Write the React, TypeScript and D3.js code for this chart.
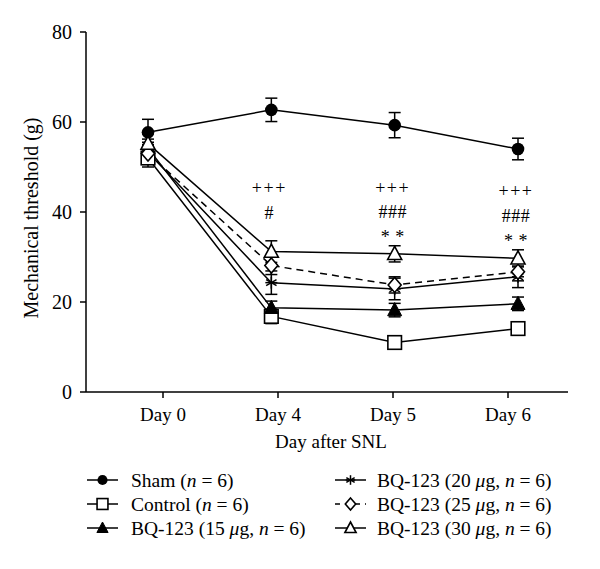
import React from "react";
import * as d3 from "d3";

const days = ["Day 0", "Day 4", "Day 5", "Day 6"];
const yTicks = [0, 20, 40, 60, 80];

const shamMean = [57.7, 62.7, 59.3, 54.0];
const shamErr = [2.9, 2.6, 2.8, 2.4];
const controlMean = [52.0, 16.8, 11.0, 14.1];
const controlErr = [2.0, 1.6, 0.8, 0.8];
const bq15Mean = [54.2, 18.7, 18.2, 19.6];
const bq15Err = [2.0, 1.5, 1.5, 1.5];
const bq20Mean = [53.3, 24.3, 22.9, 25.6];
const bq20Err = [2.2, 2.6, 2.4, 2.4];
const bq25Mean = [53.0, 28.1, 23.8, 26.7];
const bq25Err = [2.0, 2.0, 1.8, 2.0];
const bq30Mean = [55.2, 31.2, 30.7, 29.7];
const bq30Err = [2.2, 2.4, 1.8, 1.9];

const annotations = [
  { day: 1, lines: ["+++", "#"], ys: [194, 219] },
  { day: 2, lines: ["+++", "###", "* *"], ys: [194, 218, 243] },
  { day: 3, lines: ["+++", "###", "* *"], ys: [197, 222, 247] },
];

type Shape = "circle" | "square" | "triFilled" | "asterisk" | "diamond" | "triOpen";

const series: { mean: number[]; err: number[]; shape: Shape; dashed: boolean }[] = [
  { mean: shamMean, err: shamErr, shape: "circle", dashed: false },
  { mean: controlMean, err: controlErr, shape: "square", dashed: false },
  { mean: bq15Mean, err: bq15Err, shape: "triFilled", dashed: false },
  { mean: bq20Mean, err: bq20Err, shape: "asterisk", dashed: false },
  { mean: bq25Mean, err: bq25Err, shape: "diamond", dashed: true },
  { mean: bq30Mean, err: bq30Err, shape: "triOpen", dashed: false },
];

const FONT = "Liberation Serif, Times New Roman, DejaVu Serif, serif";
const ts = { fontFamily: FONT };

function Marker({ shape, x, y, s = 1 }: { shape: Shape; x: number; y: number; s?: number }) {
  const sw = 1.6;
  switch (shape) {
    case "circle":
      return <circle cx={x} cy={y} r={6.3 * s} fill="#000" />;
    case "square":
      return (
        <rect x={x - 6.8 * s} y={y - 6.8 * s} width={13.6 * s} height={13.6 * s} fill="#fff" stroke="#000" strokeWidth={sw} />
      );
    case "triFilled":
    case "triOpen": {
      const h = 7.5 * s;
      const w = 7 * s;
      const p = `M${x},${y - h} L${x + w},${y + h * 0.75} L${x - w},${y + h * 0.75} Z`;
      return shape === "triFilled" ? (
        <path d={p} fill="#000" stroke="#000" strokeWidth={1} />
      ) : (
        <path d={p} fill="#fff" stroke="#000" strokeWidth={sw} />
      );
    }
    case "diamond": {
      const w = 6.5 * s;
      const h = 7.5 * s;
      return (
        <path
          d={`M${x},${y - h} L${x + w},${y} L${x},${y + h} L${x - w},${y} Z`}
          fill="#fff"
          stroke="#000"
          strokeWidth={sw}
        />
      );
    }
    case "asterisk": {
      const r = 6 * s;
      const lines = [0, 60, 120].map((a) => {
        const rad = (a * Math.PI) / 180 + Math.PI / 2;
        return (
          <line
            key={a}
            x1={x - r * Math.cos(rad)}
            y1={y - r * Math.sin(rad)}
            x2={x + r * Math.cos(rad)}
            y2={y + r * Math.sin(rad)}
            stroke="#000"
            strokeWidth={1.5}
          />
        );
      });
      return (
        <g>
          {lines}
          <line x1={x - r} y1={y} x2={x + r} y2={y} stroke="#000" strokeWidth={1.5} />
        </g>
      );
    }
  }
  return null;
}

export default function App() {
  const width = 600;
  const height = 569;
  const x = d3.scaleLinear().domain([0, 3]).range([148, 518]);
  const tickX = d3.scalePoint<string>().domain(days).range([163, 508]);
  const y = d3.scaleLinear().domain([0, 80]).range([392, 32]);
  const axisLeft = 86;
  const axisRight = 568;

  const line = d3
    .line<number>()
    .x((_, i) => x(i))
    .y((d) => y(d));

  const it = (t: string, k: string) => (
    <tspan key={k} fontStyle="italic" style={ts}>
      {t}
    </tspan>
  );
  const pl = (t: string, k: string) => (
    <tspan key={k} style={ts}>
      {t}
    </tspan>
  );
  const mu = (dose: string) => [
    pl(`BQ-123 (${dose} `, "a"),
    it("μ", "m"),
    pl("g, ", "g"),
    it("n", "b"),
    pl(" = 6)", "c"),
  ];
  const legendRows = [
    { shape: "circle" as Shape, dashed: false, col: 0, row: 0, label: [pl("Sham (", "a"), it("n", "b"), pl(" = 6)", "c")] },
    { shape: "square" as Shape, dashed: false, col: 0, row: 1, label: [pl("Control (", "a"), it("n", "b"), pl(" = 6)", "c")] },
    { shape: "triFilled" as Shape, dashed: false, col: 0, row: 2, label: mu("15") },
    { shape: "asterisk" as Shape, dashed: false, col: 1, row: 0, label: mu("20") },
    { shape: "diamond" as Shape, dashed: true, col: 1, row: 1, label: mu("25") },
    { shape: "triOpen" as Shape, dashed: false, col: 1, row: 2, label: mu("30") },
  ];
  const legendX = [87, 335];
  const legendTextX = [131, 377];
  const legendY = [480, 504, 528];

  return (
    <svg width={width} height={height} style={{ position: "absolute", left: 0, top: 0, background: "#fff" }}>
      <rect width={width} height={height} fill="#fff" />
      {/* Axes */}
      <line x1={axisLeft} y1={y(80)} x2={axisLeft} y2={y(0)} stroke="#000" strokeWidth={1.5} />
      <line x1={axisLeft} y1={y(0)} x2={axisRight} y2={y(0)} stroke="#000" strokeWidth={1.5} />
      {yTicks.map((t) => (
        <g key={t}>
          <line x1={axisLeft - 6} x2={axisLeft} y1={y(t)} y2={y(t)} stroke="#000" strokeWidth={1.5} />
          <text x={axisLeft - 14} y={y(t)} dy="0.35em" textAnchor="end" fontSize={20} style={ts}>
            {t}
          </text>
        </g>
      ))}
      {days.map((d) => (
        <g key={d}>
          <line x1={tickX(d)} x2={tickX(d)} y1={y(0)} y2={y(0) + 6} stroke="#000" strokeWidth={1.5} />
          <text x={tickX(d)} y={y(0) + 29} textAnchor="middle" fontSize={19} style={ts}>
            {d}
          </text>
        </g>
      ))}
      <text x={331} y={448} textAnchor="middle" fontSize={19} style={ts}>
        Day after SNL
      </text>
      <text transform={`translate(38,218) rotate(-90)`} textAnchor="middle" fontSize={20} style={ts}>
        Mechanical threshold (g)
      </text>

      {/* Lines */}
      {series.map((s, k) => (
        <path
          key={"l" + k}
          d={line(s.mean) || ""}
          fill="none"
          stroke="#000"
          strokeWidth={1.5}
          strokeDasharray={s.dashed ? "7,5" : undefined}
        />
      ))}
      {/* Error bars */}
      {series.map((s, k) =>
        s.mean.map((m, i) => {
          const cx = x(i);
          const top = y(m + s.err[i]);
          const bot = y(m - s.err[i]);
          return (
            <g key={"e" + k + "-" + i} stroke="#000" strokeWidth={1.5}>
              <line x1={cx} x2={cx} y1={top} y2={bot} />
              <line x1={cx - 6} x2={cx + 6} y1={top} y2={top} />
              <line x1={cx - 6} x2={cx + 6} y1={bot} y2={bot} />
            </g>
          );
        })
      )}
      {/* Markers */}
      {series.map((s, k) =>
        s.mean.map((m, i) => <Marker key={"m" + k + "-" + i} shape={s.shape} x={x(i)} y={y(m)} />)
      )}
      {/* Annotations */}
      {annotations.map((a) =>
        a.lines.map((t, j) => (
          <text
            key={a.day + "-" + j}
            x={x(a.day) - 2}
            y={a.ys[j]}
            textAnchor="middle"
            fontSize={18}
            letterSpacing={t === "+++" ? 1.5 : 0.5}
            style={ts}
          >
            {t}
          </text>
        ))
      )}
      {/* Legend */}
      {legendRows.map((r, i) => {
        const lx = legendX[r.col];
        const ly = legendY[r.row];
        return (
          <g key={"lg" + i}>
            <line
              x1={lx}
              x2={lx + 31}
              y1={ly}
              y2={ly}
              stroke="#000"
              strokeWidth={1.5}
              strokeDasharray={r.dashed ? "5,5" : undefined}
            />
            <Marker shape={r.shape} x={lx + 15.5} y={ly} s={0.8} />
            <text x={legendTextX[r.col]} y={ly} dy="0.35em" fontSize={19.5} style={ts}>
              {r.label}
            </text>
          </g>
        );
      })}
    </svg>
  );
}
